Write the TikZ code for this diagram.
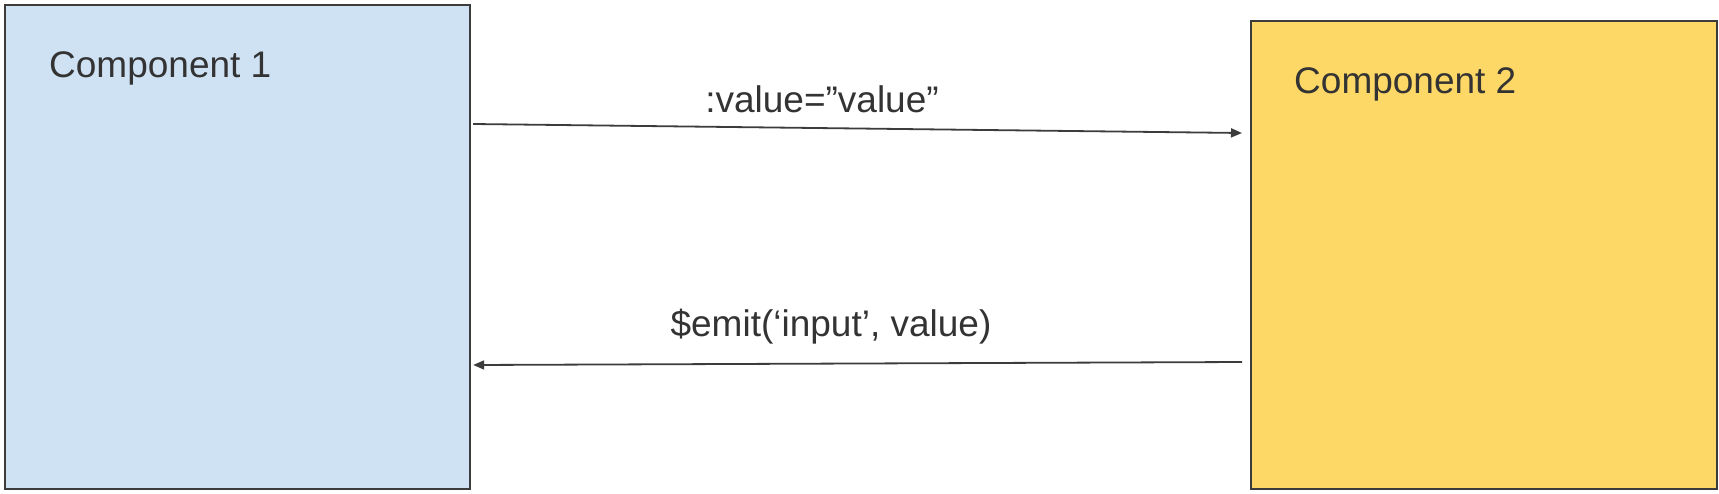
\documentclass[tikz,border=0pt]{standalone}
\usepackage{fontspec}
\setmainfont{Liberation Sans}
\usetikzlibrary{arrows.meta}
\definecolor{boxblue}{HTML}{CFE2F3}
\definecolor{boxyellow}{HTML}{FDD866}
\definecolor{edgegray}{HTML}{3C3C3C}
\definecolor{txt}{HTML}{333333}
\begin{document}
\begin{tikzpicture}[x=1pt,y=-1pt,
  comp/.style={draw=edgegray, line width=2.2pt, anchor=north west, inner sep=0pt},
  lbl/.style={text=txt, font=\fontsize{37}{44}\selectfont, inner sep=0pt},
  arr/.style={draw=edgegray, line width=1.8pt, -{Triangle[length=11pt,width=9pt]}}]
\useasboundingbox (0,0) rectangle (1719,493);
\fill[white] (0,0) rectangle (1719,493);
\node[comp, fill=boxblue, minimum width=465pt, minimum height=484pt] (b1) at (4,4) {};
\node[comp, fill=boxyellow, minimum width=466pt, minimum height=468pt] (b2) at (1250,20) {};
\node[lbl, anchor=base west] (t1) at (49,77) {Component 1};
\node[lbl, anchor=base west] (t2) at (1294,93) {Component 2};
\coordinate (a1s) at ([shift={(2,120)}]b1.north east);
\coordinate (a1e) at ([shift={(-8,113)}]b2.north west);
\coordinate (a2s) at ([shift={(-8,342)}]b2.north west);
\coordinate (a2e) at ([shift={(2,361)}]b1.north east);
\draw[arr] (a1s) -- (a1e);
\draw[arr] (a2s) -- (a2e);
\node[lbl, anchor=base] (l1) at (822,112) {:value=”value”};
\node[lbl, anchor=base] (l2) at (831,336) {\$emit(‘input’, value)};
\end{tikzpicture}
\end{document}
